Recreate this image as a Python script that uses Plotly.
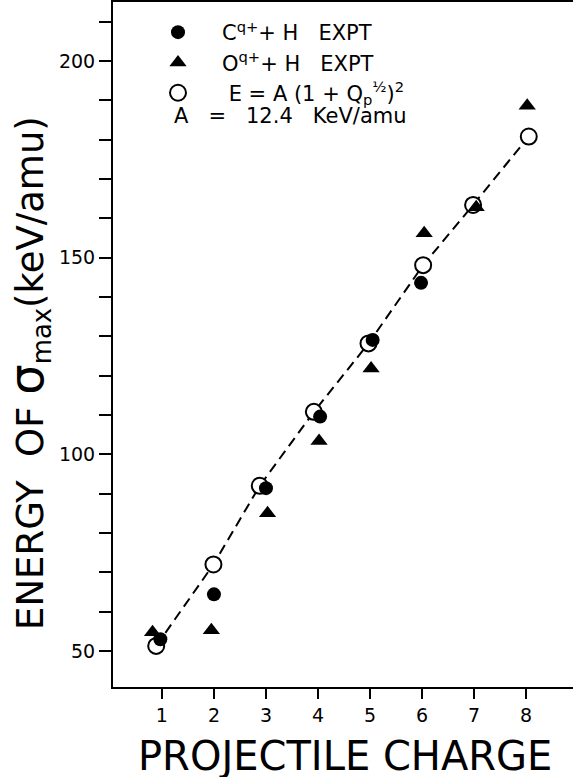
import plotly.graph_objects as go

# ---- data ----
# theory: E = A (1 + Q^1/2)^2, open circles (x positions as drawn)
theory_charge = [0.89, 1.99, 2.88, 3.92, 4.97, 6.02, 6.98, 8.05]
theory_energy = [51.3, 72.0, 92.0, 110.8, 128.2, 148.1, 163.4, 180.8]

# C^q+ + H experiment, filled circles
c_charge = [0.97, 2.0, 3.0, 4.04, 5.05, 5.98]
c_energy = [53.0, 64.4, 91.4, 109.6, 129.1, 143.6]

# O^q+ + H experiment, filled triangles
o_charge = [0.82, 1.95, 3.03, 4.02, 5.02, 6.04, 7.04, 8.02]
o_energy = [54.8, 55.3, 85.0, 103.4, 121.8, 156.2, 162.8, 188.6]

x_ticks = [1, 2, 3, 4, 5, 6, 7, 8]
y_ticks = [50, 100, 150, 200]
y_minor_step = 10

FONT = "DejaVu Sans"
NB = "\u00a0"

W, H = 573, 777
ML, MR, MT, MB = 113, 0, 2, 90

fig = go.Figure()

# dashed theory line (no legend)
fig.add_trace(go.Scatter(
    x=theory_charge, y=theory_energy, mode="lines",
    line=dict(color="black", width=2, dash="10px,6px"),
    showlegend=False, hoverinfo="skip",
))

fig.add_trace(go.Scatter(
    x=theory_charge, y=theory_energy, mode="markers",
    marker=dict(symbol="circle", size=16, color="white",
                line=dict(color="black", width=2)),
    name=NB + "E" + NB + "=" + NB + "A" + NB + "(1" + NB + "+" + NB
         + "Q<sub>p</sub><sup>½</sup>)<sup>2</sup>",
    legendrank=3,
))
fig.add_trace(go.Scatter(
    x=c_charge, y=c_energy, mode="markers",
    marker=dict(symbol="circle", size=14, color="black"),
    name="C<sup>q+</sup>+" + NB + "H" + NB * 3 + "EXPT",
    legendrank=1,
))
fig.add_trace(go.Scatter(
    x=o_charge, y=o_energy, mode="markers",
    marker=dict(symbol="triangle-up", size=15, color="black"),
    name="O<sup>q+</sup>+" + NB + "H" + NB * 3 + "EXPT",
    legendrank=2,
))

plot_w = W - ML - MR
plot_h = H - MT - MB


def px_x(p):
    return (p - ML) / plot_w


def px_y(p):
    return (H - MB - p) / plot_h


fig.add_annotation(
    text="A" + NB * 3 + "=" + NB * 3 + "12.4" + NB * 3 + "KeV/amu",
    xref="paper", yref="paper", x=px_x(172), y=px_y(116),
    xanchor="left", yanchor="middle", showarrow=False,
    font=dict(family=FONT, size=21, color="black"),
)

fig.add_annotation(
    text="ENERGY" + NB * 2 + "OF" + NB + "<span style='font-size:48px'>σ</span>"
         + "<sub>max</sub>(keV/amu)",
    xref="paper", yref="paper", x=px_x(28), y=px_y(373),
    xanchor="center", yanchor="middle", textangle=-90, showarrow=False,
    font=dict(family=FONT, size=37, color="black"),
)

fig.add_annotation(
    text="PROJECTILE" + NB + "CHARGE",
    xref="paper", yref="paper", x=px_x(345), y=px_y(756),
    xanchor="center", yanchor="middle", showarrow=False,
    font=dict(family=FONT, size=40, color="black"),
)

fig.update_layout(
    width=W, height=H,
    margin=dict(l=ML, r=MR, t=MT, b=MB, pad=0),
    paper_bgcolor="white", plot_bgcolor="white",
    font=dict(family=FONT, color="black"),
    showlegend=True,
    legend=dict(
        x=px_x(134), y=px_y(12), xanchor="left", yanchor="top",
        bgcolor="rgba(0,0,0,0)", borderwidth=0,
        font=dict(family=FONT, size=21, color="black"),
        itemwidth=78, tracegroupgap=0,
    ),
    xaxis=dict(
        range=[0.06, 8.9], tickmode="array", tickvals=x_ticks,
        ticks="outside", ticklen=10, tickwidth=2, tickcolor="black",
        showline=True, linewidth=2, linecolor="black", mirror=True,
        showgrid=False, zeroline=False,
        tickfont=dict(family=FONT, size=19, color="black"),
    ),
    yaxis=dict(
        range=[40.85, 215], tickmode="array", tickvals=y_ticks,
        ticks="outside", ticklen=12, tickwidth=2, tickcolor="black",
        minor=dict(tick0=0, dtick=y_minor_step, ticks="outside", ticklen=12,
                   tickwidth=2, tickcolor="black", showgrid=False),
        showline=True, linewidth=2, linecolor="black", mirror=False,
        showgrid=False, zeroline=False,
        tickfont=dict(family=FONT, size=19, color="black"),
    ),
)

fig.write_html(
    "out.html",
    config={"displayModeBar": False},
    post_script="document.body.style.margin='0';document.body.style.overflow='hidden';",
)
